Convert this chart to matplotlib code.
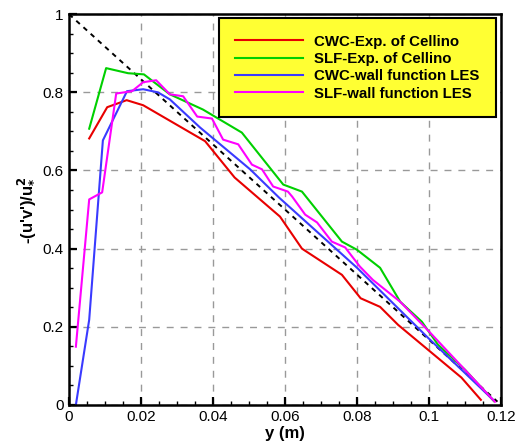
import matplotlib
matplotlib.use("Agg")
import matplotlib.pyplot as plt
from matplotlib.ticker import MultipleLocator, FuncFormatter

plt.rcParams['font.family'] = ['Liberation Sans', 'DejaVu Sans']

# CWC - experiment of Cellino
cwc_exp_y = [0.0056, 0.0106, 0.016, 0.0206, 0.0378, 0.046, 0.0586, 0.0647,
             0.0758, 0.081, 0.0864, 0.0914, 0.109, 0.1144]
cwc_exp_uv = [0.682, 0.762, 0.780, 0.767, 0.675, 0.582, 0.482, 0.400,
              0.333, 0.273, 0.251, 0.205, 0.070, 0.013]

# SLF - experiment of Cellino
slf_exp_y = [0.0056, 0.0103, 0.0164, 0.0208, 0.028, 0.0372, 0.048, 0.0595,
             0.0647, 0.0758, 0.080, 0.0864, 0.092, 0.098, 0.1025, 0.110, 0.118]
slf_exp_uv = [0.707, 0.862, 0.849, 0.846, 0.795, 0.756, 0.697, 0.564,
              0.546, 0.418, 0.397, 0.351, 0.264, 0.213, 0.154, 0.090, 0.010]

# CWC - wall function LES
cwc_les_y = [0.0019, 0.0056, 0.0094, 0.0161, 0.0206, 0.0247, 0.028, 0.0364,
             0.0503, 0.0583, 0.080, 0.0997, 0.1178]
cwc_les_uv = [0.0, 0.218, 0.677, 0.803, 0.808, 0.800, 0.782, 0.710,
              0.603, 0.531, 0.351, 0.172, 0.013]

# SLF - wall function LES
slf_les_y = [0.0019, 0.0056, 0.0092, 0.0131, 0.0175, 0.0206, 0.0242, 0.028,
             0.0317, 0.0356, 0.0397, 0.0428, 0.047, 0.0508, 0.0536, 0.0567,
             0.0608, 0.062, 0.0656, 0.0689, 0.073, 0.0767, 0.0808, 0.0844,
             0.092, 0.1003, 0.1183]
slf_les_uv = [0.149, 0.526, 0.544, 0.797, 0.803, 0.826, 0.831, 0.795,
              0.790, 0.738, 0.733, 0.679, 0.667, 0.615, 0.603, 0.559,
              0.546, 0.533, 0.487, 0.467, 0.418, 0.403, 0.354, 0.320,
              0.264, 0.185, 0.008]

# linear total shear stress reference
ref_y = [0.0, 0.119]
ref_uv = [1.0, 1.0 - 0.119 / 0.12]

fig = plt.figure(figsize=(5.23, 4.44), dpi=100)
ax = fig.add_axes([0.132, 0.088, 0.826, 0.880])

ax.plot(ref_y, ref_uv, color='black', lw=1.4, ls=(0, (2.5, 2.5)))
ax.plot(cwc_exp_y, cwc_exp_uv, color='#e80000', lw=1.5, label='CWC-Exp. of Cellino')
ax.plot(slf_exp_y, slf_exp_uv, color='#00d000', lw=1.5, label='SLF-Exp. of Cellino')
ax.plot(cwc_les_y, cwc_les_uv, color='#3a3aff', lw=1.5, label='CWC-wall function LES')
ax.plot(slf_les_y, slf_les_uv, color='#ff00ff', lw=1.5, label='SLF-wall function LES')

ax.set_xlim(0, 0.12)
ax.set_ylim(0, 1)
ax.xaxis.set_major_locator(MultipleLocator(0.02))
ax.xaxis.set_minor_locator(MultipleLocator(0.005))
ax.yaxis.set_major_locator(MultipleLocator(0.2))
ax.yaxis.set_minor_locator(MultipleLocator(0.05))
fmt = FuncFormatter(lambda v, p: f"{v:g}")
ax.xaxis.set_major_formatter(fmt)
ax.yaxis.set_major_formatter(fmt)
ax.tick_params(which='major', direction='in', length=6, width=1.6, labelsize=11,
               top=False, right=False, pad=4)
ax.tick_params(which='minor', direction='in', length=3, width=1.0, top=False, right=False)
for s in ax.spines.values():
    s.set_linewidth(1.8)

ax.grid(True, which='major', color='#999999', ls=(0, (5, 5)), lw=1.0)

ax.set_xlabel('y (m)', fontsize=12, fontweight='bold', labelpad=1)
ax.set_ylabel(r"-(u'v')/u$_{\mathbf{*}}^{\mathbf{2}}$", fontsize=12, fontweight='bold', labelpad=4)

leg = ax.legend(loc='upper right', bbox_to_anchor=(0.988, 0.99), borderaxespad=0,
                fancybox=False, facecolor='#ffff33', edgecolor='black', framealpha=1,
                prop={'weight': 'bold', 'size': 10.8}, handlelength=4.5,
                borderpad=1.1, labelspacing=0.22, handletextpad=0.75)
leg.get_frame().set_linewidth(1.5)

fig.savefig('out.png', dpi=100)
